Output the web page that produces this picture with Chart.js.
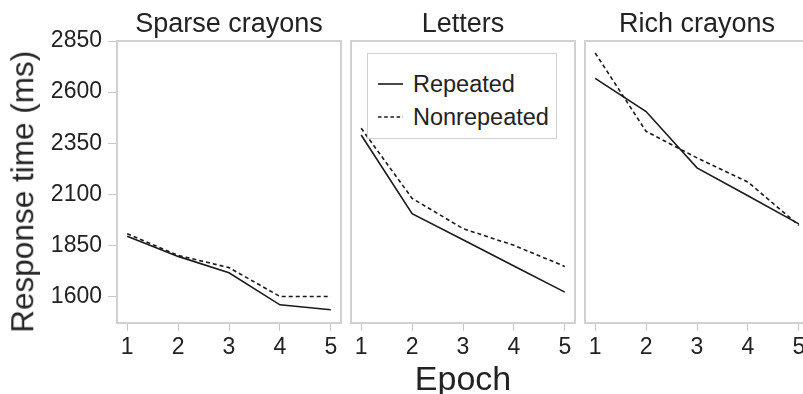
<!DOCTYPE html>
<html>
<head>
<meta charset="utf-8">
<script src="https://cdn.jsdelivr.net/npm/chart.js@4/dist/chart.umd.min.js"></script>
<style>
  body { margin: 0; background: #fff; }
  #wrap { position: relative; width: 803px; height: 394px; overflow: hidden; font-family: "Liberation Sans", Arial, sans-serif; color: #222; }
  canvas { position: absolute; top: 0; }
  .ttl { position: absolute; font-size: 27px; line-height: 27px; text-align: center; white-space: nowrap; }
  #legend { position: absolute; left: 367px; top: 53px; width: 188px; height: 84px; border: 1.5px solid #d0d0d0; background: #fff; }
  .row { position: absolute; left: 0; height: 24px; display: flex; align-items: center; font-size: 23.5px; }
  .row svg { margin-left: 10px; margin-right: 10px; }
</style>
</head>
<body>
<div id="wrap">
  <canvas id="c0" width="343" height="394" style="left:0"></canvas>
  <canvas id="c1" width="228" height="394" style="left:349px"></canvas>
  <canvas id="c2" width="228" height="394" style="left:583px"></canvas>
  <div class="ttl" id="t0" style="left:129px;width:200px;top:10px"></div>
  <div class="ttl" id="t1" style="left:363px;width:200px;top:10px"></div>
  <div class="ttl" id="t2" style="left:597px;width:200px;top:10px"></div>
  <div class="ttl" style="left:363px;width:200px;top:361px;font-size:34px;line-height:34px">Epoch</div>
  <div class="ttl" style="left:-177px;width:400px;top:176px;font-size:31.5px;line-height:31.5px;transform:rotate(-90deg)">Response time (ms)</div>
  <div id="legend"></div>
</div>
<script>
const epochs = [1, 2, 3, 4, 5];
const panelTitles = ["Sparse crayons", "Letters", "Rich crayons"];
const seriesNames = ["Repeated", "Nonrepeated"];
const yTicks = [1600, 1850, 2100, 2350, 2600, 2850];

// values (ms)
const sparseRepeated = [1895, 1796, 1716, 1559, 1535];
const sparseNonrepeated = [1907, 1801, 1741, 1600, 1600];
const lettersRepeated = [2390, 2005, 1877, 1749, 1621];
const lettersNonrepeated = [2423, 2080, 1932, 1850, 1747];
const richRepeated = [2667, 2505, 2229, 2093, 1955];
const richNonrepeated = [2791, 2408, 2278, 2160, 1948];

const panels = [
  [sparseRepeated, sparseNonrepeated],
  [lettersRepeated, lettersNonrepeated],
  [richRepeated, richNonrepeated]
];

const FONT = "'Liberation Sans', Arial, sans-serif";
const INK = "#1a1a1a";
const dashes = [[], [4, 3]];

// grey frame round the plot area
const frame = {
  id: "frame",
  beforeDatasetsDraw(chart) {
    const a = chart.chartArea, ctx = chart.ctx;
    ctx.save();
    ctx.strokeStyle = "#d0d0d0";
    ctx.lineWidth = 2;
    ctx.strokeRect(a.left, a.top, a.right - a.left, a.bottom - a.top);
    ctx.restore();
  }
};

panels.forEach((series, i) => {
  document.getElementById("t" + i).textContent = panelTitles[i];
  const first = i === 0;
  new Chart(document.getElementById("c" + i), {
    type: "line",
    data: {
      datasets: series.map((vals, k) => ({
        label: seriesNames[k],
        data: epochs.map((e, j) => ({x: e, y: vals[j]})),
        borderColor: INK,
        borderWidth: 1.6,
        borderDash: dashes[k],
        pointRadius: 0,
        tension: 0,
        fill: false
      }))
    },
    options: {
      responsive: false,
      animation: false,
      layout: { padding: { top: 41, left: first ? 0 : 2, right: 2, bottom: 0 } },
      plugins: { legend: { display: false }, tooltip: { enabled: false } },
      scales: {
        x: {
          type: "linear", min: 0.8, max: 5.2,
          afterBuildTicks: s => { s.ticks = epochs.map(v => ({value: v})); },
          afterFit: s => { s.height = 71; },
          border: { display: false },
          grid: { drawOnChartArea: false, drawTicks: true, tickLength: 8, color: "#c8c8c8" },
          ticks: { color: "#222", font: { family: FONT, size: 23 }, padding: 3, maxRotation: 0 }
        },
        y: {
          display: first,
          min: 1470, max: 2850,
          afterBuildTicks: s => { s.ticks = yTicks.map(v => ({value: v})); },
          afterFit: s => { s.width = first ? 117 : 0; },
          border: { display: false },
          grid: { drawOnChartArea: false, drawTicks: true, tickLength: 9, color: "#c8c8c8" },
          ticks: { color: "#222", font: { family: FONT, size: 23 }, padding: 6, callback: v => String(v) }
        }
      }
    },
    plugins: [frame]
  });
});

// legend (sits in the Letters panel)
const legend = document.getElementById("legend");
seriesNames.forEach((name, k) => {
  const row = document.createElement("div");
  row.className = "row";
  row.style.top = (18 + k * 33) + "px";
  row.innerHTML = `<svg width="25" height="4"><line x1="0" y1="2" x2="25" y2="2" stroke="${INK}" stroke-width="1.6" stroke-dasharray="${k ? "3.5,2.7" : "none"}"/></svg><span>${name}</span>`;
  legend.appendChild(row);
});
</script>
</body>
</html>
